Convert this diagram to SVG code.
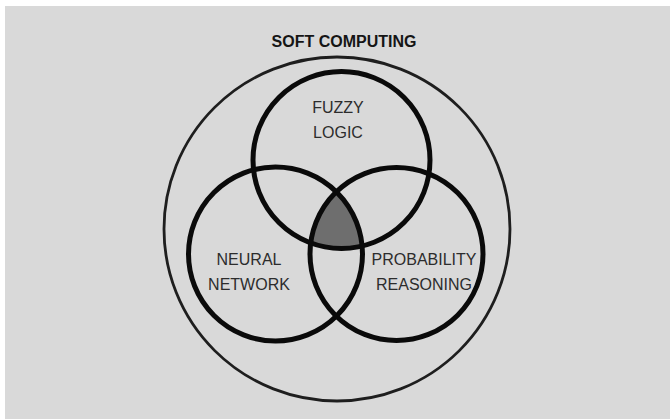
<svg xmlns="http://www.w3.org/2000/svg" width="670" height="419" viewBox="0 0 670 419">
  <style>
    .ring { fill: none; stroke: #0a0a0a; stroke-width: 5; }
    .outer { fill: none; stroke: #1e1e1e; stroke-width: 2.8; }
    .label { font-family: "Liberation Sans", Arial, sans-serif; font-size: 16px; fill: #2c2c2c; text-anchor: middle; }
    .title { font-family: "Liberation Sans", Arial, sans-serif; font-size: 16px; font-weight: bold; fill: #151515; text-anchor: middle; }
  </style>
  <defs>
    <clipPath id="clipLeft"><circle cx="275.5" cy="254" r="87"/></clipPath>
    <clipPath id="clipRight"><circle cx="396.5" cy="254" r="86.5"/></clipPath>
  </defs>
  <rect x="0" y="0" width="670" height="419" fill="#ffffff"/>
  <rect x="5" y="6" width="665" height="413" fill="#d9d9d9"/>

  <g id="soft-computing">
    <ellipse class="outer" cx="337" cy="229" rx="173" ry="172"/>
    <text class="title" x="344" y="47">SOFT COMPUTING</text>
  </g>

  <g id="intersection">
    <g clip-path="url(#clipLeft)">
      <circle cx="341.5" cy="160" r="88.5" fill="#6e6e6e" clip-path="url(#clipRight)"/>
    </g>
  </g>

  <g id="fuzzy-logic">
    <circle class="ring" cx="341.5" cy="160" r="88.5"/>
    <text class="label" x="338" y="113">FUZZY</text>
    <text class="label" x="338" y="138">LOGIC</text>
  </g>

  <g id="neural-network">
    <circle class="ring" cx="275.5" cy="254" r="87"/>
    <text class="label" x="249" y="265">NEURAL</text>
    <text class="label" x="249" y="290">NETWORK</text>
  </g>

  <g id="probability-reasoning">
    <circle class="ring" cx="396.5" cy="254" r="86.5"/>
    <text class="label" x="424" y="265">PROBABILITY</text>
    <text class="label" x="424" y="290">REASONING</text>
  </g>

  <g id="connectors"></g>
</svg>
